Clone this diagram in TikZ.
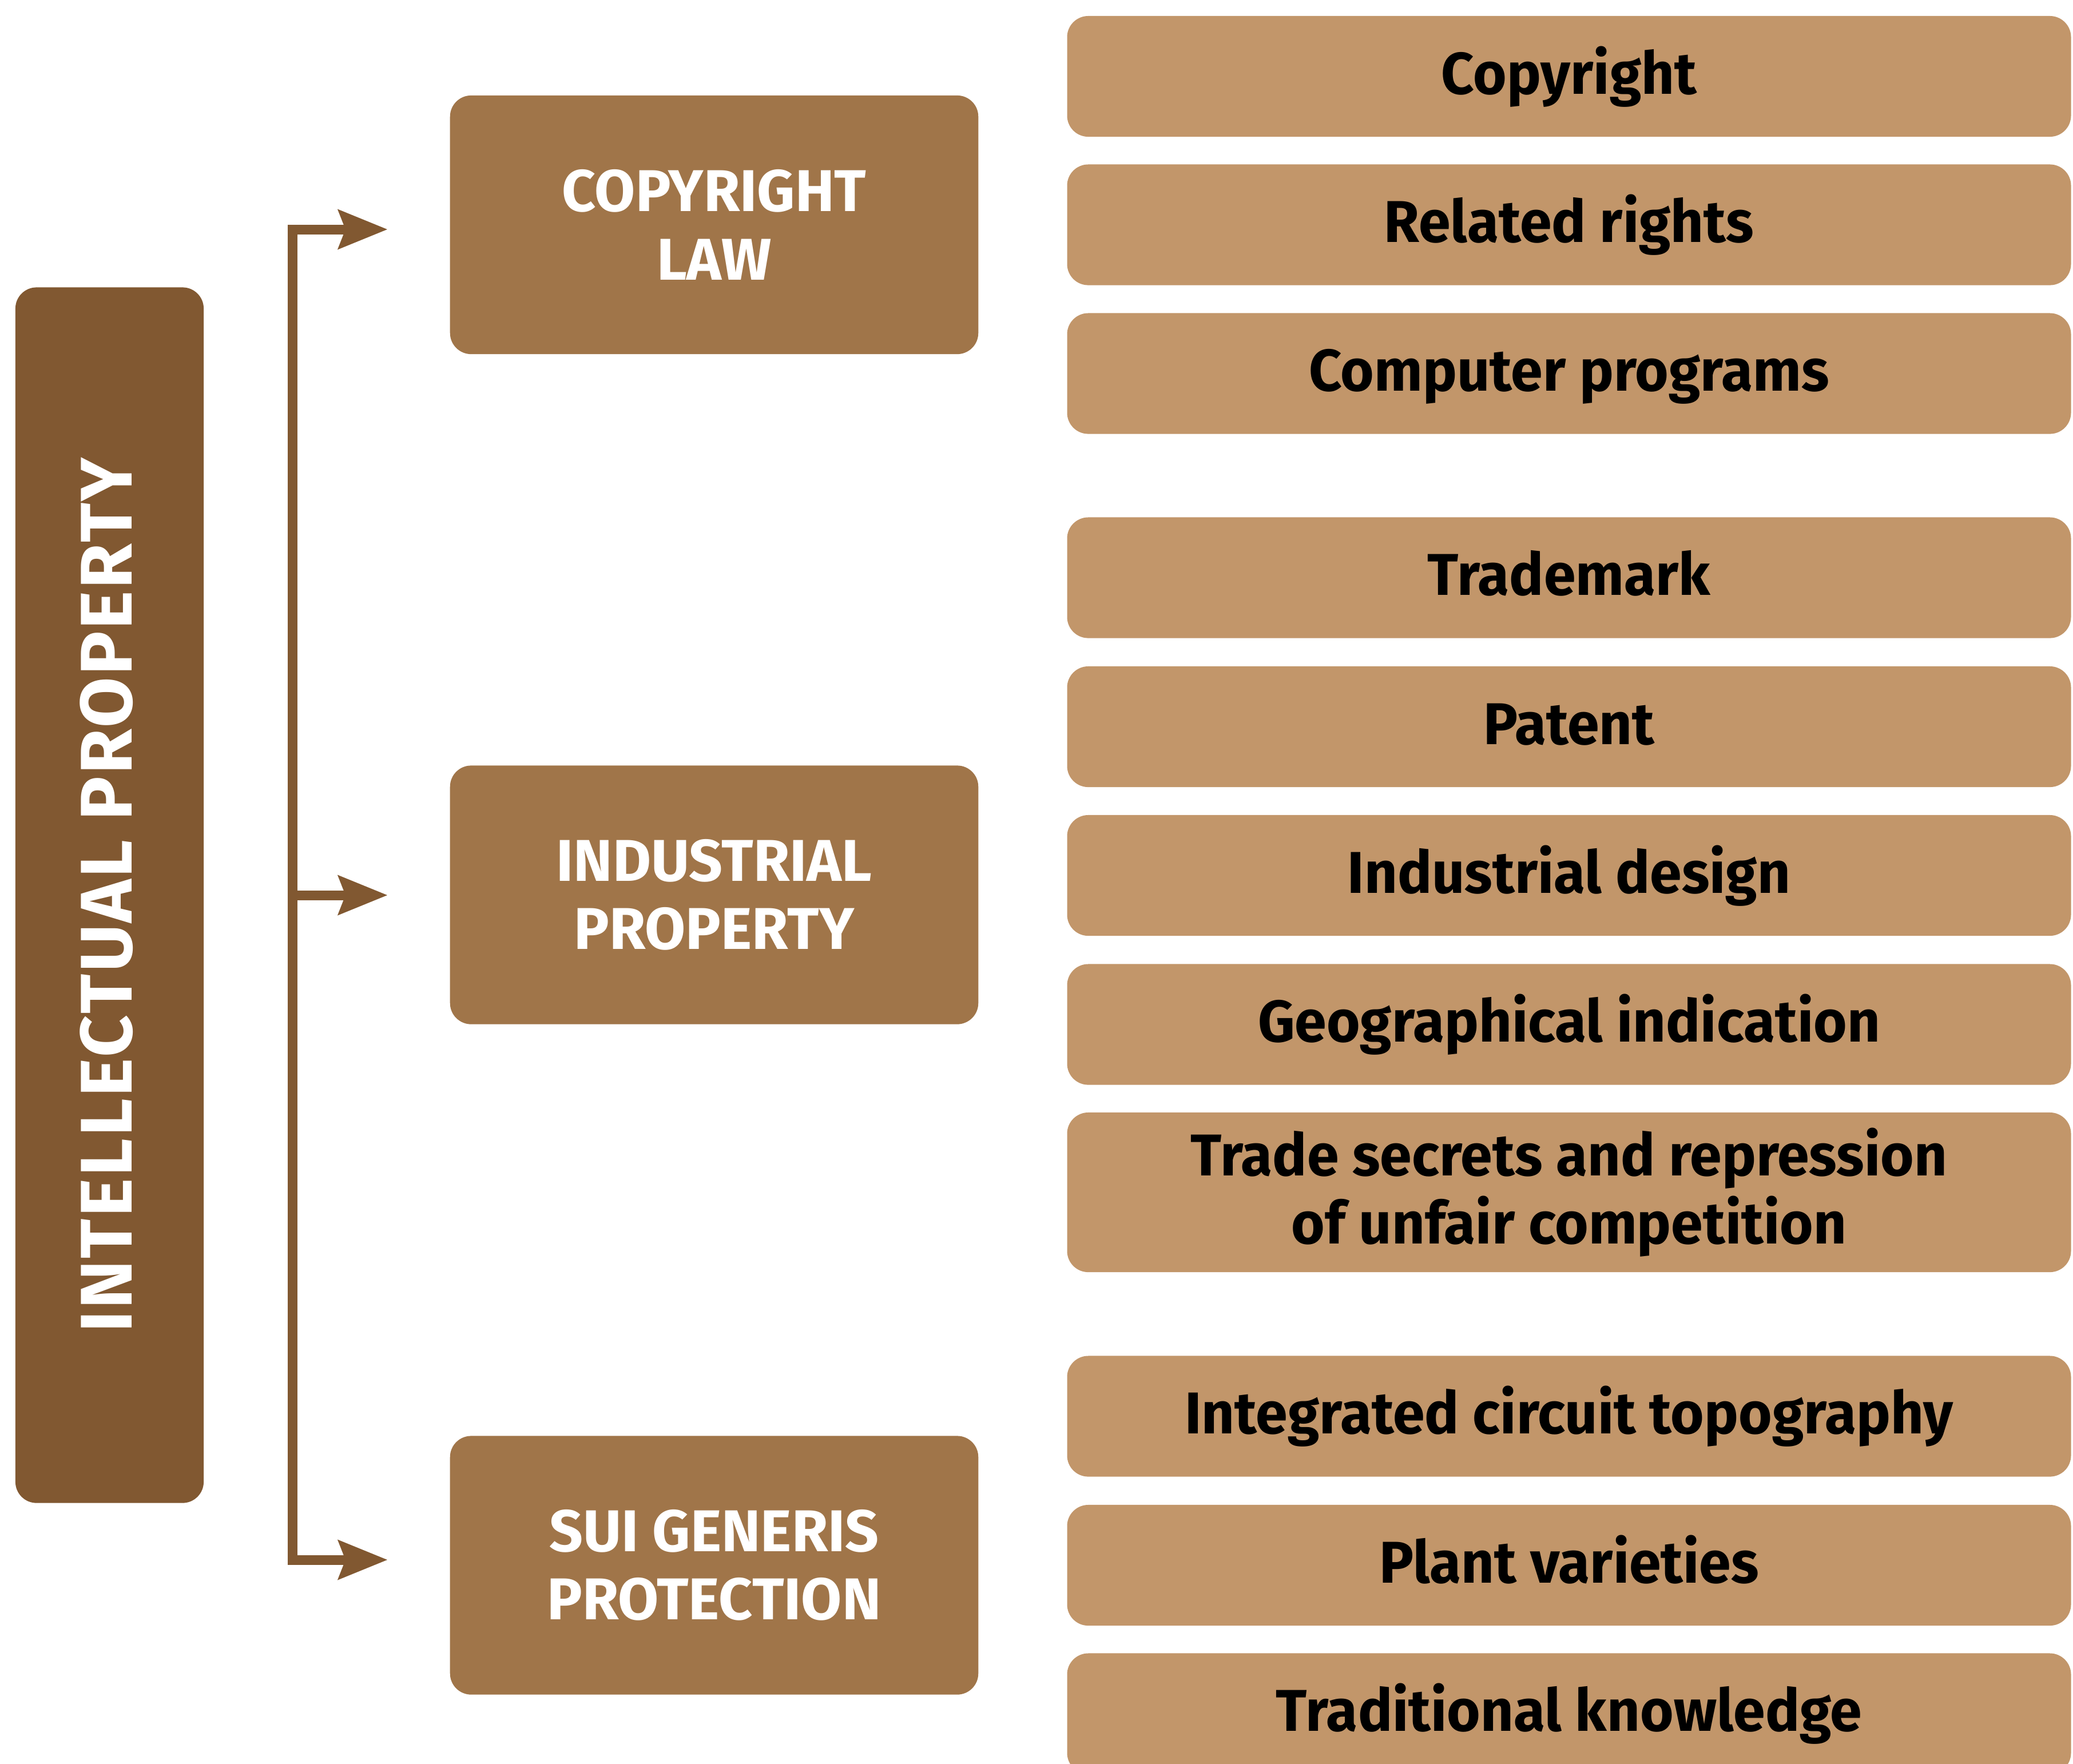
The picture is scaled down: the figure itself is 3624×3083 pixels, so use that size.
\documentclass[tikz,border=0pt]{standalone}
\usepackage{fontspec}
\setmainfont{Fira Sans}
\newfontfamily\leaffont{Fira Sans}[FakeStretch=0.975]
\newfontfamily\rootfont{Fira Sans}[LetterSpace=3.0]
\usetikzlibrary{arrows.meta}
\definecolor{ipdark}{RGB}{129,88,49}
\definecolor{ipmid}{RGB}{160,117,73}
\definecolor{iplight}{RGB}{194,150,106}
\begin{document}
\begin{tikzpicture}[x=0.01cm,y=-0.01cm,
  >={Stealth[length=0.87cm,width=0.71cm,inset=0.14cm,line width=0pt]},
  base/.style={inner sep=0pt, outer sep=0pt, rounded corners=0.37cm, align=center,
    font=\fontsize{29.3pt}{33.9pt}\selectfont\bfseries},
  leaf/.style={base, fill=iplight, text=black, minimum width=17.54cm, minimum height=2.11cm,
    font=\leaffont\fontsize{29.3pt}{33.9pt}\selectfont\bfseries},
  leafone/.style={leaf, text height=0.61cm, text depth=0pt},
  cat/.style={base, fill=ipmid, text=white, minimum width=9.23cm, minimum height=4.52cm},
  root/.style={base, fill=ipdark, text=white, rotate=90, minimum width=21.24cm,
    minimum height=3.29cm, text height=0.77cm, text depth=0pt,
    font=\rootfont\fontsize{36.35pt}{40pt}\selectfont\bfseries},
  conn/.style={draw=ipdark, line width=0.17cm, line join=miter}
]
\clip (0,0) rectangle (3624,3083);
\fill[white] (0,0) rectangle (3624,3083);

% root
\node[root] (ip) at (191.5,1565) {INTELLECTUAL PROPERTY};

% categories
\node[cat] (m1) at (1248.5,393) {COPYRIGHT\\LAW};
\node[cat] (m2) at (1248.5,1564.5) {INDUSTRIAL\\PROPERTY};
\node[cat] (m3) at (1248.5,2736.5) {SUI GENERIS\\PROTECTION};

% leaves
\node[leafone] (r1) at (2743,133.5) {Copyright};
\node[leafone] (r2) at (2743,393) {Related rights};
\node[leafone] (r3) at (2743,653) {Computer programs};
\node[leafone] (r4) at (2743,1010) {Trademark};
\node[leafone] (r5) at (2743,1270.5) {Patent};
\node[leafone] (r6) at (2743,1530.5) {Industrial design};
\node[leafone] (r7) at (2743,1791) {Geographical indication};
\node[leaf, minimum height=2.79cm] (r8) at (2743,2084.5) {Trade secrets and repression\\of unfair competition};
\node[leafone] (r9) at (2743,2476) {Integrated circuit topography};
\node[leafone] (r10) at (2743,2736.5) {Plant varieties};
\node[leafone] (r11) at (2743,2996) {Traditional knowledge};

% connectors
\coordinate (j1) at (511,401);
\coordinate (j2) at (511,1565);
\coordinate (j3) at (511,2727);
\coordinate (t1) at (677,401);
\coordinate (t2) at (677,1565);
\coordinate (t3) at (677,2727);
\draw[conn,<->] (t1) -- (j1) -- (j3) -- (t3);
\draw[conn,->] (j2) -- (t2);
\end{tikzpicture}
\end{document}
